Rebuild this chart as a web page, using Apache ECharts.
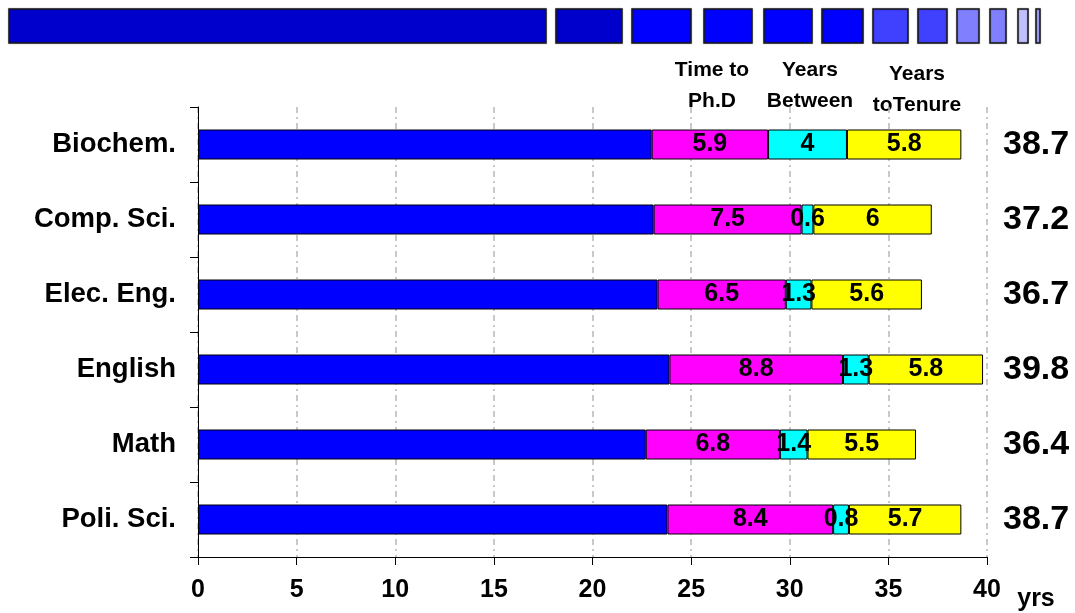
<!DOCTYPE html>
<html>
<head>
<meta charset="utf-8">
<script src="https://cdn.jsdelivr.net/npm/echarts@6/dist/echarts.min.js"></script>
<style>
  html, body { margin: 0; padding: 0; background: #fff; }
  #chart { width: 1075px; height: 613px; }
</style>
</head>
<body>
<div id="chart"></div>
<script>
// Career timeline by discipline (years)
const categories = ['Biochem.', 'Comp. Sci.', 'Elec. Eng.', 'English', 'Math', 'Poli. Sci.'];
const ageAtStart   = [23.0, 23.1, 23.3, 23.9, 22.7, 23.8];
const timeToPhD    = [5.9, 7.5, 6.5, 8.8, 6.8, 8.4];
const yearsBetween = [4, 0.6, 1.3, 1.3, 1.4, 0.8];
const yearsToTenure = [5.8, 6, 5.6, 5.8, 5.5, 5.7];
const xTicks = [0, 5, 10, 15, 20, 25, 30, 35, 40];
const headers = ['Time to\nPh.D', 'Years\nBetween', 'Years\ntoTenure'];

const totals = categories.map((_, i) =>
  (ageAtStart[i] + timeToPhD[i] + yearsBetween[i] + yearsToTenure[i]).toFixed(1));

const FONT = 'Liberation Sans, Arial, sans-serif';
const chart = echarts.init(document.getElementById('chart'));

// decorative banner of blocks along the top
const banner = [
  [9, 546, '#0000CC'], [556, 622, '#0000CC'], [632, 691, '#0000FF'], [704, 752, '#0000FF'],
  [764, 812, '#0000FF'], [822, 863, '#0000FF'], [873, 908, '#4040FF'], [918, 947, '#4040FF'],
  [957, 979, '#8080FF'], [990, 1006, '#8080FF'], [1018, 1028, '#C0C0FF'], [1036, 1040, '#A0A0FF']
];
const bannerGraphics = banner.map(b => ({
  type: 'rect',
  shape: { x: b[0], y: 9, width: b[1] - b[0], height: 34 },
  style: { fill: b[2], stroke: '#1a1a1a', lineWidth: 1.5, shadowColor: 'rgba(0,0,0,0.35)', shadowBlur: 1.5 }
}));

const headerPos = [[712, 86], [810, 86], [917, 90]];
const headerGraphics = headers.map((h, i) => ({
  type: 'text',
  x: headerPos[i][0], y: headerPos[i][1],
  style: {
    text: h, fill: '#000', font: 'bold 21px ' + FONT,
    align: 'center', verticalAlign: 'middle', lineHeight: 31
  }
}));

const segLabel = {
  show: true, position: 'inside', color: '#000',
  fontFamily: FONT, fontWeight: 'bold', fontSize: 25
};
const segStyle = c => ({ color: c, borderColor: '#000', borderWidth: 1 });

function seg(name, data, color, withLabel) {
  return {
    name, type: 'bar', stack: 'total', barWidth: 30, data,
    itemStyle: segStyle(color),
    label: withLabel ? segLabel : { show: false },
    emphasis: { disabled: true },
    animation: false
  };
}

chart.setOption({
  animation: false,
  grid: { left: 198, right: 88, top: 107, bottom: 56, containLabel: false },
  xAxis: {
    type: 'value', min: 0, max: 40, interval: 5,
    axisLine: { show: true, lineStyle: { color: '#000', width: 1 } },
    axisTick: { show: true, length: 8, lineStyle: { color: '#000' } },
    axisLabel: {
      margin: 21, color: '#000', fontFamily: FONT, fontWeight: 'bold', fontSize: 25,
      formatter: v => (xTicks.indexOf(v) >= 0 ? String(v) : '')
    },
    splitLine: { show: true, lineStyle: { color: '#B8B8B8', type: [6, 4, 2, 4], width: 1.5 } }
  },
  yAxis: [
    {
      type: 'category', data: categories, inverse: true,
      axisLine: { show: true, lineStyle: { color: '#000', width: 1 } },
      axisTick: { show: true, length: 8, lineStyle: { color: '#000' } },
      axisLabel: { margin: 22, color: '#000', fontFamily: FONT, fontWeight: 'bold', fontSize: 27.5 },
      splitLine: { show: false }
    },
    {
      type: 'category', data: totals, inverse: true, position: 'right',
      axisLine: { show: false }, axisTick: { show: false },
      axisLabel: { margin: 16, color: '#000', fontFamily: FONT, fontWeight: 'bold', fontSize: 34 },
      splitLine: { show: false }
    }
  ],
  series: [
    seg('Age at start', ageAtStart, '#0000FF', false),
    seg('Time to Ph.D', timeToPhD, '#FF00FF', true),
    seg('Years Between', yearsBetween, '#00FFFF', true),
    seg('Years to Tenure', yearsToTenure, '#FFFF00', true)
  ],
  graphic: [
    ...bannerGraphics,
    ...headerGraphics,
    {
      type: 'text', x: 1036, y: 599,
      style: { text: 'yrs', fill: '#000', font: 'bold 25px ' + FONT, align: 'center', verticalAlign: 'middle' }
    }
  ]
});
</script>
</body>
</html>
